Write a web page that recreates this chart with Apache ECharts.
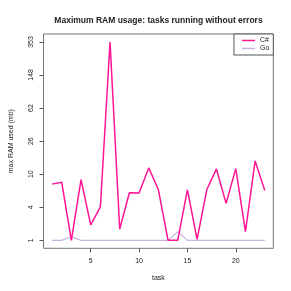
<!DOCTYPE html>
<html><head><meta charset="utf-8">
<script src="https://cdn.jsdelivr.net/npm/echarts@6/dist/echarts.min.js"></script>
<style>html,body{margin:0;padding:0;background:#fff}#c{width:291px;height:291px}</style>
</head><body><div id="c"></div>
<script>
var tasks = [1,2,3,4,5,6,7,8,9,10,11,12,13,14,15,16,17,18,19,20,21,22,23];
var csharp = [8.42,8.87,1.92,9.5,2.89,4.62,353.9,2.58,6.71,6.66,12.9,7.26,1.92,1.92,7.26,1.97,7.26,12.56,5.08,12.67,2.41,15.5,7.14];
var go = [1.92,1.92,2.11,1.92,1.92,1.92,1.92,1.92,1.92,1.92,1.92,1.92,1.92,2.41,1.92,1.92,1.92,1.92,1.92,1.92,1.92,1.92,1.92];
var yTickValues = [1.92,4.58,10.926,26.06,62.17,148.3,353.8];
var yTickLabels = ['1','4','10','26','62','148','353'];
var xTicks = [5,10,15,20];

var ln = Math.log;
var yLo = ln(1.92), yHi = ln(353.9), yPad = (yHi - yLo) * 0.04;
var xLo = 1, xHi = 23, xPad = (xHi - xLo) * 0.04;
var yTickPos = yTickValues.map(function(v){return ln(v);});
function labelFor(val){
  for (var i=0;i<yTickPos.length;i++){ if (Math.abs(yTickPos[i]-val)<1e-6) return yTickLabels[i]; }
  return '';
}
var font = 'Liberation Sans, Arial, sans-serif';
var chart = echarts.init(document.getElementById('c'), null, {renderer:'canvas'});
chart.setOption({
  animation:false,
  backgroundColor:'#fff',
  title:{text:'Maximum RAM usage: tasks running without errors', left:153.5, textAlign:'center', top:11,
    textStyle:{fontFamily:font,fontSize:8.5,fontWeight:'bold',color:'#222'}},
  grid:{left:34, right:17.7, top:34, bottom:42.7, show:true, borderColor:'#777', borderWidth:1, backgroundColor:'transparent'},
  legend:{orient:'vertical', right:17.7, top:34, data:['C#','Go'], icon:'rect', itemWidth:13, itemHeight:1.5, itemGap:1,
    padding:[3,4,3,8], borderColor:'#555', borderWidth:1, backgroundColor:'#fff', borderRadius:0,
    textStyle:{fontFamily:font,fontSize:7,color:'#222',padding:[0,0,0,0]}},
  xAxis:{type:'value', min:xLo-xPad, max:xHi+xPad, name:'task', nameLocation:'middle', nameGap:26,
    nameTextStyle:{fontFamily:font,fontSize:7,color:'#222'},
    splitLine:{show:false}, axisLine:{show:false},
    axisTick:{show:true, length:4, customValues:xTicks, lineStyle:{color:'#555'}},
    axisLabel:{customValues:xTicks, fontFamily:font, fontSize:7, color:'#222', margin:9}},
  yAxis:{type:'value', min:yLo-yPad, max:yHi+yPad, name:'max RAM used (mb)', nameLocation:'middle', nameGap:28.5,
    nameTextStyle:{fontFamily:font,fontSize:7,color:'#222'},
    splitLine:{show:false}, axisLine:{show:false},
    axisTick:{show:true, length:4, customValues:yTickPos, lineStyle:{color:'#555'}},
    axisLabel:{customValues:yTickPos, rotate:90, fontFamily:font, fontSize:7, color:'#222', margin:9,
      formatter:function(v){return labelFor(v);}}},
  series:[
    {name:'C#', type:'line', data:tasks.map(function(t,i){return [t, ln(csharp[i])];}), showSymbol:false, symbol:'none',
      lineStyle:{color:'#ff1493', width:1.5}, itemStyle:{color:'#ff1493'}, z:3},
    {name:'Go', type:'line', data:tasks.map(function(t,i){return [t, ln(go[i])];}), showSymbol:false, symbol:'none',
      lineStyle:{color:'#c9b3e3', width:1.1}, itemStyle:{color:'#c9b3e3'}, z:2}
  ]
});
</script></body></html>
